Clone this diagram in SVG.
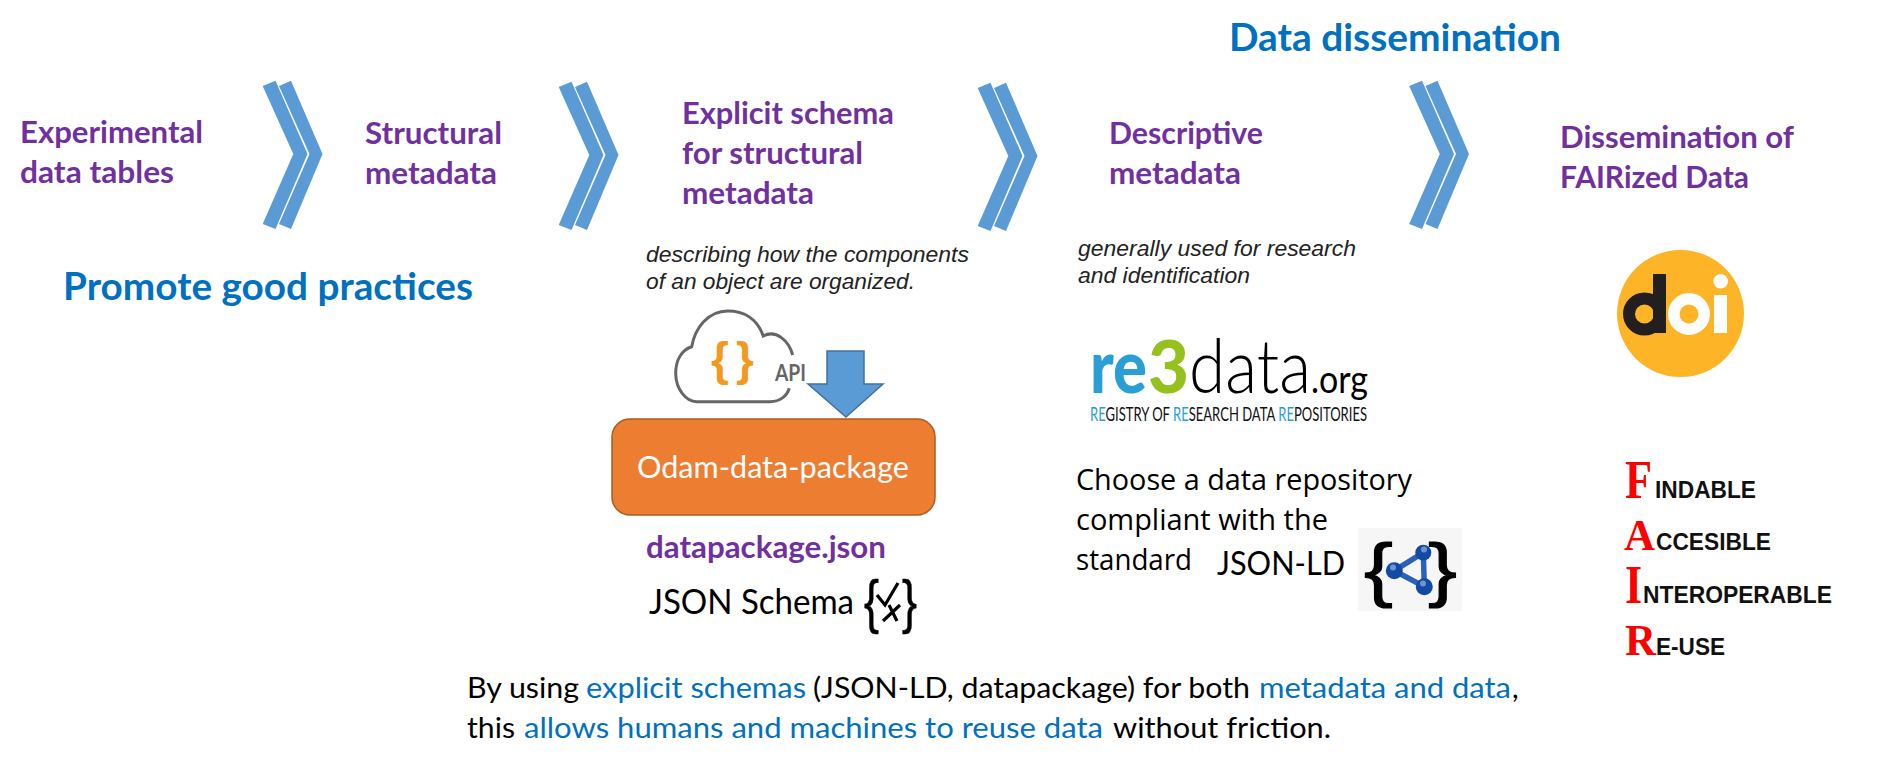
<svg xmlns="http://www.w3.org/2000/svg" width="1895" height="769" viewBox="0 0 1895 769">
<style>
text{font-family:"Lato","Liberation Sans",sans-serif;white-space:pre}
.step{font-size:30.5px;font-weight:700;fill:#7030a0}
.head{font-size:38.5px;font-weight:700;fill:#0070c0}
.note{font-family:"Liberation Sans",Arial,sans-serif;font-size:22.5px;font-style:italic;fill:#222}
.body{font-size:29px;fill:#000}
.blue{fill:#0070c0}
.repo{font-family:"Open Sans",sans-serif;font-size:28.5px;fill:#000}
.cap{font-family:"Liberation Serif",serif;font-weight:700;fill:#f00}
.fair{font-family:"Liberation Sans",sans-serif;font-weight:700;font-size:23.5px;fill:#111}
.chev{fill:#5b9bd5}
.brace{font-family:"Liberation Sans",sans-serif;font-weight:400;fill:#000;stroke:#000}
</style>
<defs>
<g id="chevron">
<polygon class="chev" points="262.7,86 275.5,80.7 307.5,154 275.5,229 262.7,224 293.3,154"/>
<polygon class="chev" points="279,86 291,80.7 322.5,154 291,229 279,224 309.5,154"/>
</g>
</defs>
<rect width="1895" height="769" fill="#fff"/>
<g id="connectors">
<use href="#chevron"/>
<use href="#chevron" x="296" y="1"/>
<use href="#chevron" x="715" y="2"/>
<use href="#chevron" x="1146.5" y="0"/>
</g>
<g id="node-experimental">
<text class="step" x="20" y="143" textLength="183" lengthAdjust="spacingAndGlyphs">Experimental</text>
<text class="step" x="20" y="183" textLength="154" lengthAdjust="spacingAndGlyphs">data tables</text>
</g>
<g id="node-structural">
<text class="step" x="365" y="144" textLength="137" lengthAdjust="spacingAndGlyphs">Structural</text>
<text class="step" x="365" y="184" textLength="132" lengthAdjust="spacingAndGlyphs">metadata</text>
</g>
<g id="node-good-practices">
<text class="head" x="63" y="300" textLength="410" lengthAdjust="spacingAndGlyphs">Promote good practices</text>
</g>
<g id="node-explicit-schema">
<text class="step" x="682" y="124" textLength="212" lengthAdjust="spacingAndGlyphs">Explicit schema</text>
<text class="step" x="682" y="164" textLength="181" lengthAdjust="spacingAndGlyphs">for structural</text>
<text class="step" x="682" y="204" textLength="132" lengthAdjust="spacingAndGlyphs">metadata</text>
<text class="note" x="646" y="262" textLength="323" lengthAdjust="spacingAndGlyphs">describing how the components</text>
<text class="note" x="646" y="289" textLength="269" lengthAdjust="spacingAndGlyphs">of an object are organized.</text>
</g>
<g id="node-api-cloud">
<path d="M792.7,355C789,341 776,329 763.3,336C757,318 743,311 727.7,311C708,311 695,328 691.7,346.7C681,350 675.7,361 675.7,373.3C675.7,389 686,401.7 696.7,401.7L770,401.7C780,401.7 787,396 789.3,388.3" fill="none" stroke="#666" stroke-width="3"/>
<text x="711" y="375" font-size="46" font-weight="700" fill="#f39a1e" style="font-family:'Liberation Sans',sans-serif">{</text>
<text x="736" y="375" font-size="46" font-weight="700" fill="#f39a1e" style="font-family:'Liberation Sans',sans-serif">}</text>
<text x="775" y="381" font-size="23" font-weight="700" fill="#666" textLength="31" lengthAdjust="spacingAndGlyphs">API</text>
</g>
<g id="node-down-arrow">
<polygon points="827,351 864,351 864,384 883,384 846,417 808,384 827,384" fill="#5b9bd5" stroke="#41719c" stroke-width="1.5"/>
</g>
<g id="node-odam">
<rect x="612" y="419" width="323" height="96" rx="18" fill="#ed7d31" stroke="#ae5a21" stroke-width="1.5"/>
<text x="637" y="478" font-size="31" fill="#fff" textLength="272" lengthAdjust="spacingAndGlyphs">Odam-data-package</text>
</g>
<g id="node-datapackage">
<text x="646" y="558" font-size="30" font-weight="700" fill="#7030a0" textLength="240" lengthAdjust="spacingAndGlyphs">datapackage.json</text>
<text x="649" y="614" font-size="34" fill="#000" textLength="205" lengthAdjust="spacingAndGlyphs">JSON Schema</text>
<text class="brace" x="864" y="622" font-size="60" stroke-width="0.6" textLength="15" lengthAdjust="spacingAndGlyphs">{</text>
<text class="brace" x="902" y="622" font-size="60" stroke-width="0.6" textLength="15" lengthAdjust="spacingAndGlyphs">}</text>
<path d="M877,595L885,605L898,583M883,621L900,605M889,605L897,621" fill="none" stroke="#000" stroke-width="3.2"/>
</g>
<g id="node-descriptive">
<text class="step" x="1109" y="144" textLength="154" lengthAdjust="spacingAndGlyphs">Descriptive</text>
<text class="step" x="1109" y="184" textLength="132" lengthAdjust="spacingAndGlyphs">metadata</text>
<text class="note" x="1078" y="256" textLength="278" lengthAdjust="spacingAndGlyphs">generally used for research</text>
<text class="note" x="1078" y="283" textLength="172" lengthAdjust="spacingAndGlyphs">and identification</text>
</g>
<g id="node-re3data">
<text y="393"><tspan x="1090" font-size="74" font-weight="900" fill="#2a9fd6" textLength="57" lengthAdjust="spacingAndGlyphs">re</tspan><tspan x="1148" font-size="72" font-weight="900" fill="#95c11f" textLength="41" lengthAdjust="spacingAndGlyphs">3</tspan><tspan x="1189" font-size="74" font-weight="300" fill="#000" textLength="122" lengthAdjust="spacingAndGlyphs">data</tspan><tspan x="1311" font-size="38" fill="#000" textLength="57" lengthAdjust="spacingAndGlyphs">.org</tspan></text>
<text x="1090" y="421" font-size="20" font-weight="400" fill="#111" textLength="277" lengthAdjust="spacingAndGlyphs"><tspan fill="#2a9fd6">RE</tspan>GISTRY OF <tspan fill="#2a9fd6">RE</tspan>SEARCH DATA <tspan fill="#2a9fd6">RE</tspan>POSITORIES</text>
</g>
<g id="node-repository">
<text class="repo" x="1076" y="490" textLength="336" lengthAdjust="spacingAndGlyphs">Choose a data repository</text>
<text class="repo" x="1076" y="530" textLength="252" lengthAdjust="spacingAndGlyphs">compliant with the</text>
<text class="repo" x="1076" y="570" textLength="116" lengthAdjust="spacingAndGlyphs">standard</text>
<text x="1217" y="575" font-size="33" fill="#000" textLength="128" lengthAdjust="spacingAndGlyphs">JSON-LD</text>
</g>
<g id="node-jsonld-logo">
<rect x="1358" y="528" width="104" height="83" fill="#f6f6f6"/>
<text class="brace" x="1364" y="593" font-size="70" stroke-width="1" textLength="29" lengthAdjust="spacingAndGlyphs">{</text>
<text class="brace" x="1428" y="593" font-size="70" stroke-width="1" textLength="29" lengthAdjust="spacingAndGlyphs">}</text>
<path d="M1394.3,570.7L1423.3,552.7L1424.3,586.7Z" fill="none" stroke="#2a62b8" stroke-width="5.5"/>
<circle cx="1394.3" cy="570.7" r="8.5" fill="#134ba3"/>
<circle cx="1423.3" cy="552.7" r="8" fill="#134ba3"/>
<circle cx="1424.3" cy="586.7" r="8.5" fill="#134ba3"/>
<circle cx="1393" cy="567.5" r="3" fill="#6d95d4"/>
<circle cx="1424" cy="549.5" r="3" fill="#6d95d4"/>
<circle cx="1423" cy="583.5" r="3" fill="#6d95d4"/>
</g>
<g id="node-data-dissemination">
<text class="head" x="1229" y="51" textLength="332" lengthAdjust="spacingAndGlyphs">Data dissemination</text>
</g>
<g id="node-dissemination">
<text class="step" x="1560" y="148" textLength="234" lengthAdjust="spacingAndGlyphs">Dissemination of</text>
<text class="step" x="1560" y="188" textLength="189" lengthAdjust="spacingAndGlyphs">FAIRized Data</text>
</g>
<g id="node-doi">
<circle cx="1680.5" cy="313.5" r="63.5" fill="#fdb527"/>
<circle cx="1644.5" cy="314" r="15.5" fill="none" stroke="#231f20" stroke-width="12"/>
<rect x="1653" y="274" width="13" height="59" fill="#231f20"/>
<circle cx="1689" cy="314" r="15.2" fill="none" stroke="#fff" stroke-width="11.5"/>
<rect x="1714" y="295" width="13" height="38" fill="#fff"/>
<circle cx="1720.7" cy="281.3" r="7.3" fill="#fff"/>
</g>
<g id="node-fair">
<text class="cap" x="1625" y="498" font-size="54" textLength="27" lengthAdjust="spacingAndGlyphs">F</text>
<text class="fair" x="1655" y="498" textLength="101" lengthAdjust="spacingAndGlyphs">INDABLE</text>
<text class="cap" x="1624" y="550" font-size="45" textLength="31" lengthAdjust="spacingAndGlyphs">A</text>
<text class="fair" x="1656" y="550" textLength="115" lengthAdjust="spacingAndGlyphs">CCESIBLE</text>
<text class="cap" x="1625" y="603" font-size="54" textLength="17" lengthAdjust="spacingAndGlyphs">I</text>
<text class="fair" x="1643" y="603" textLength="189" lengthAdjust="spacingAndGlyphs">NTEROPERABLE</text>
<text class="cap" x="1625" y="655" font-size="45" textLength="31" lengthAdjust="spacingAndGlyphs">R</text>
<text class="fair" x="1656" y="655" textLength="69" lengthAdjust="spacingAndGlyphs">E-USE</text>
</g>
<g id="node-conclusion">
<text class="body" x="467" y="698" textLength="112" lengthAdjust="spacingAndGlyphs">By using</text>
<text class="body blue" x="586" y="698" textLength="220" lengthAdjust="spacingAndGlyphs">explicit schemas</text>
<text class="body" x="813" y="698" textLength="437" lengthAdjust="spacingAndGlyphs">(JSON-LD, datapackage) for both</text>
<text class="body blue" x="1259" y="698" textLength="252" lengthAdjust="spacingAndGlyphs">metadata and data</text>
<text class="body" x="1512" y="698">,</text>
<text class="body" x="467" y="738" textLength="48" lengthAdjust="spacingAndGlyphs">this</text>
<text class="body blue" x="524" y="738" textLength="579" lengthAdjust="spacingAndGlyphs">allows humans and machines to reuse data</text>
<text class="body" x="1113" y="738" textLength="218" lengthAdjust="spacingAndGlyphs">without friction.</text>
</g>
</svg>
